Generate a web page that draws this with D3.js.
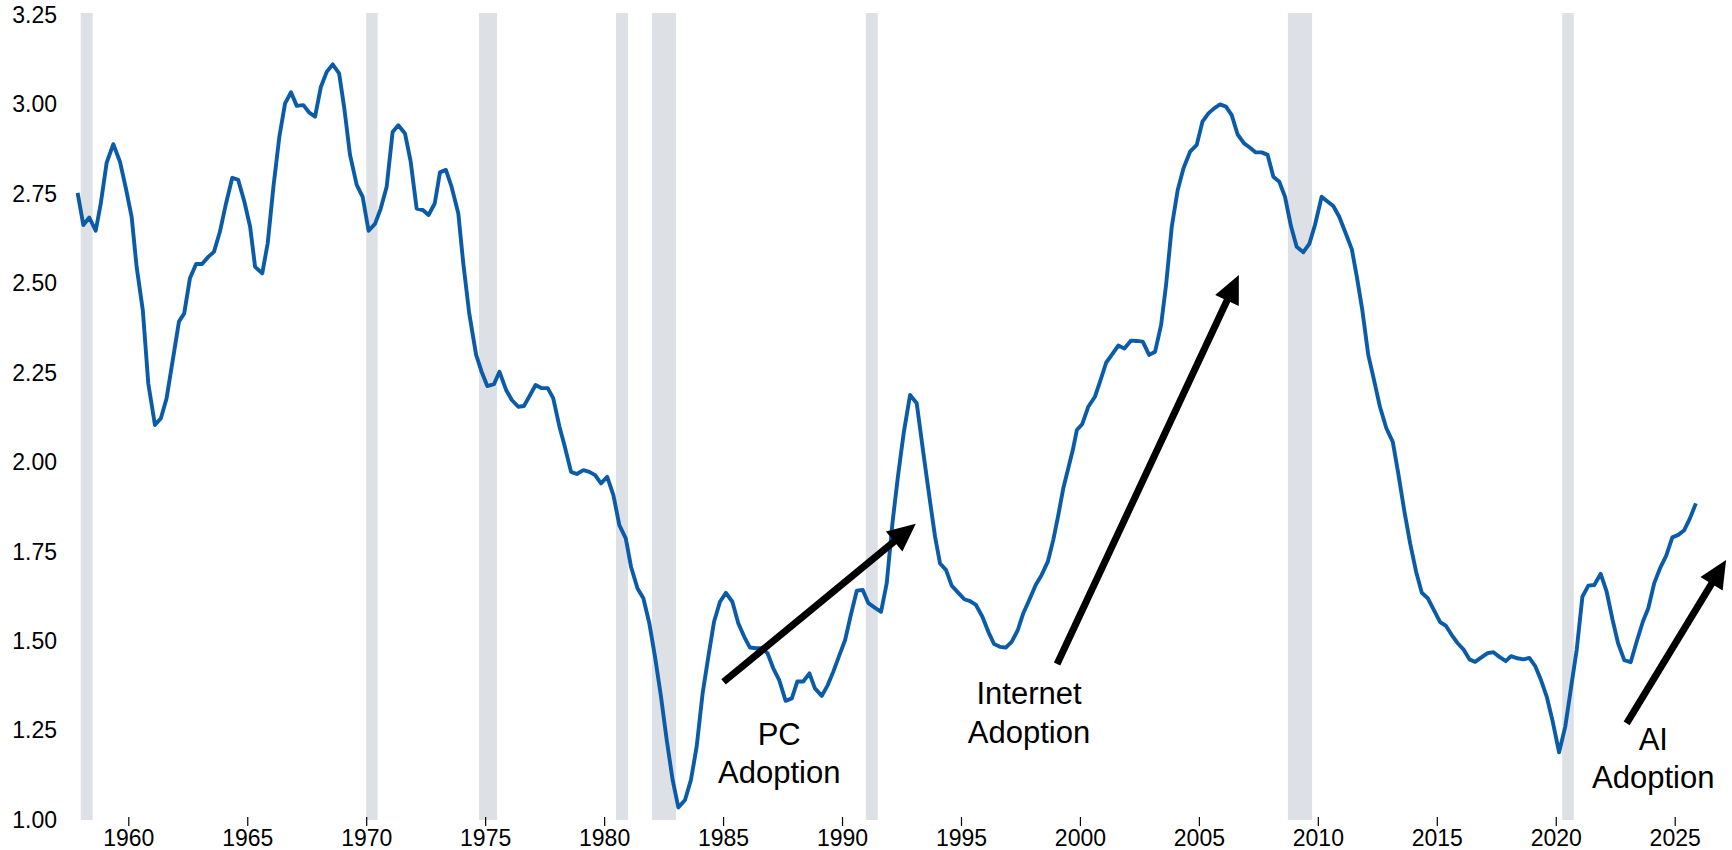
<!DOCTYPE html>
<html>
<head>
<meta charset="utf-8">
<script src="https://cdn.jsdelivr.net/npm/d3@7"></script>
<style>
  html, body { margin: 0; padding: 0; background: #fff; }
  svg text { font-family: "Liberation Sans", Arial, sans-serif; }
</style>
</head>
<body>
<div id="chart"></div>
<script>
// quarterly series: [decimal year, value]
const series = [
  [1957.87, 2.753], [1958.11, 2.663], [1958.36, 2.684], [1958.63, 2.647], [1958.84, 2.722],
  [1959.09, 2.837], [1959.37, 2.889], [1959.65, 2.840], [1959.90, 2.765], [1960.14, 2.686],
  [1960.35, 2.546], [1960.61, 2.425], [1960.84, 2.220], [1961.12, 2.104], [1961.37, 2.123],
  [1961.61, 2.179], [1961.87, 2.286], [1962.13, 2.393], [1962.35, 2.416], [1962.59, 2.514],
  [1962.85, 2.554], [1963.10, 2.554], [1963.36, 2.574], [1963.60, 2.588], [1963.85, 2.644],
  [1964.11, 2.724], [1964.37, 2.795], [1964.62, 2.789], [1964.88, 2.728], [1965.12, 2.658],
  [1965.33, 2.546], [1965.63, 2.528], [1965.86, 2.612], [1966.10, 2.770], [1966.35, 2.910],
  [1966.59, 3.003], [1966.84, 3.034], [1967.08, 2.996], [1967.36, 2.998], [1967.61, 2.977],
  [1967.85, 2.966], [1968.09, 3.048], [1968.34, 3.091], [1968.59, 3.112], [1968.86, 3.087],
  [1969.08, 2.989], [1969.32, 2.859], [1969.60, 2.775], [1969.85, 2.742], [1970.10, 2.647],
  [1970.37, 2.666], [1970.61, 2.709], [1970.86, 2.770], [1971.11, 2.923], [1971.35, 2.942],
  [1971.63, 2.919], [1971.87, 2.840], [1972.12, 2.709], [1972.38, 2.705], [1972.62, 2.691],
  [1972.88, 2.723], [1973.10, 2.810], [1973.35, 2.817], [1973.58, 2.772], [1973.87, 2.696],
  [1974.08, 2.556], [1974.33, 2.416], [1974.62, 2.300], [1974.85, 2.253], [1975.09, 2.213],
  [1975.37, 2.218], [1975.60, 2.253], [1975.88, 2.202], [1976.12, 2.174], [1976.39, 2.155],
  [1976.63, 2.157], [1976.89, 2.188], [1977.12, 2.216], [1977.38, 2.207], [1977.63, 2.207],
  [1977.86, 2.179], [1978.12, 2.100], [1978.33, 2.048], [1978.61, 1.973], [1978.85, 1.967],
  [1979.13, 1.978], [1979.38, 1.973], [1979.62, 1.964], [1979.87, 1.941], [1980.13, 1.959],
  [1980.39, 1.908], [1980.64, 1.824], [1980.91, 1.787], [1981.13, 1.708], [1981.40, 1.648],
  [1981.65, 1.620], [1981.90, 1.550], [1982.14, 1.456], [1982.39, 1.345], [1982.63, 1.224],
  [1982.88, 1.112], [1983.12, 1.035], [1983.40, 1.056], [1983.65, 1.112], [1983.89, 1.205],
  [1984.14, 1.354], [1984.38, 1.456], [1984.62, 1.554], [1984.87, 1.610], [1985.12, 1.635],
  [1985.39, 1.610], [1985.64, 1.550], [1985.89, 1.512], [1986.13, 1.482], [1986.38, 1.480],
  [1986.62, 1.480], [1986.87, 1.466], [1987.11, 1.424], [1987.36, 1.391], [1987.63, 1.333],
  [1987.89, 1.340], [1988.12, 1.387], [1988.37, 1.387], [1988.63, 1.410], [1988.86, 1.368],
  [1989.15, 1.347], [1989.40, 1.377], [1989.63, 1.414], [1989.89, 1.461], [1990.13, 1.503],
  [1990.37, 1.573], [1990.62, 1.641], [1990.87, 1.643], [1991.11, 1.606], [1991.39, 1.593],
  [1991.64, 1.582], [1991.88, 1.662], [1992.12, 1.830], [1992.35, 1.960], [1992.60, 2.085],
  [1992.86, 2.188], [1993.14, 2.165], [1993.40, 2.035], [1993.67, 1.904], [1993.91, 1.792],
  [1994.12, 1.717], [1994.37, 1.699], [1994.61, 1.655], [1994.89, 1.635], [1995.14, 1.617],
  [1995.38, 1.612], [1995.63, 1.601], [1995.90, 1.568], [1996.15, 1.526], [1996.39, 1.492],
  [1996.64, 1.484], [1996.88, 1.482], [1997.13, 1.498], [1997.39, 1.531], [1997.62, 1.578],
  [1997.87, 1.615], [1998.14, 1.657], [1998.39, 1.685], [1998.65, 1.722], [1998.88, 1.783],
  [1999.09, 1.852], [1999.30, 1.927], [1999.51, 1.983], [1999.70, 2.034], [1999.87, 2.090],
  [2000.10, 2.107], [2000.35, 2.155], [2000.63, 2.183], [2000.87, 2.230], [2001.10, 2.278],
  [2001.36, 2.302], [2001.61, 2.326], [2001.87, 2.318], [2002.15, 2.340], [2002.39, 2.339],
  [2002.64, 2.337], [2002.91, 2.300], [2003.16, 2.309], [2003.41, 2.383], [2003.62, 2.495],
  [2003.86, 2.658], [2004.11, 2.761], [2004.35, 2.821], [2004.63, 2.868], [2004.91, 2.887],
  [2005.15, 2.952], [2005.40, 2.975], [2005.64, 2.989], [2005.89, 3.000], [2006.14, 2.994],
  [2006.38, 2.970], [2006.63, 2.916], [2006.90, 2.891], [2007.15, 2.879], [2007.39, 2.866],
  [2007.64, 2.866], [2007.89, 2.859], [2008.13, 2.798], [2008.38, 2.784], [2008.62, 2.742],
  [2008.87, 2.660], [2009.11, 2.602], [2009.39, 2.587], [2009.64, 2.610], [2009.88, 2.663],
  [2010.16, 2.742], [2010.42, 2.728], [2010.65, 2.716], [2010.90, 2.686], [2011.17, 2.640],
  [2011.43, 2.595], [2011.64, 2.518], [2011.87, 2.425], [2012.12, 2.300], [2012.36, 2.230],
  [2012.61, 2.155], [2012.88, 2.095], [2013.15, 2.057], [2013.38, 1.969], [2013.64, 1.862],
  [2013.88, 1.773], [2014.13, 1.694], [2014.37, 1.635], [2014.62, 1.620], [2014.89, 1.585],
  [2015.14, 1.553], [2015.38, 1.543], [2015.63, 1.517], [2015.88, 1.494], [2016.12, 1.477],
  [2016.37, 1.449], [2016.61, 1.442], [2016.86, 1.454], [2017.12, 1.466], [2017.38, 1.469],
  [2017.63, 1.456], [2017.90, 1.444], [2018.12, 1.458], [2018.39, 1.452], [2018.64, 1.449],
  [2018.89, 1.453], [2019.13, 1.431], [2019.38, 1.391], [2019.62, 1.345], [2019.86, 1.279],
  [2020.14, 1.189], [2020.40, 1.261], [2020.65, 1.373], [2020.88, 1.475], [2021.12, 1.624],
  [2021.37, 1.655], [2021.62, 1.657], [2021.89, 1.688], [2022.14, 1.638], [2022.39, 1.559],
  [2022.62, 1.494], [2022.88, 1.447], [2023.15, 1.441], [2023.40, 1.498], [2023.66, 1.554],
  [2023.89, 1.592], [2024.14, 1.662], [2024.38, 1.703], [2024.64, 1.738], [2024.90, 1.790],
  [2025.15, 1.797], [2025.40, 1.810], [2025.64, 1.843], [2025.89, 1.885]
];

// shaded recession periods [start, end]
const recessions = [
  [1958.0, 1958.5], [1970.0, 1970.48], [1974.74, 1975.5], [1980.5, 1981.0],
  [1982.01, 1983.02], [1991.0, 1991.5], [2008.74, 2009.76], [2020.27, 2020.76]
];

const xTicks = [1960, 1965, 1970, 1975, 1980, 1985, 1990, 1995, 2000, 2005, 2010, 2015, 2020, 2025];
const yTicks = [1.00, 1.25, 1.50, 1.75, 2.00, 2.25, 2.50, 2.75, 3.00, 3.25];

// annotations: label lines, label anchor, arrow tail and tip (year, value)
const notes = [
  { lines: ['PC', 'Adoption'], at: [1987.36, 1.21], from: [1985.02, 1.386], to: [1993.10, 1.828] },
  { lines: ['Internet', 'Adoption'], at: [1997.86, 1.323], from: [1999.04, 1.436], to: [2006.68, 2.523] },
  { lines: ['AI', 'Adoption'], at: [2024.10, 1.196], from: [2022.98, 1.27], to: [2027.16, 1.727] }
];

const width = 1732, height = 850;
const lineColor = '#0a5ca8';
const shade = '#dde0e5';

let svg = d3.select('#chart')
    .append('svg')
    .attr('width', width)
    .attr('height', height);

let x = d3.scaleLinear().domain([1960, 2025]).range([128.3, 1674.7]);
let y = d3.scaleLinear().domain([1, 3.25]).range([820, 15]);

// recession bars
svg.append('g')
    .selectAll('rect')
    .data(recessions)
    .enter()
    .append('rect')
    .attr('x', d => x(d[0]))
    .attr('width', d => x(d[1]) - x(d[0]))
    .attr('y', y(3.25) - 2)
    .attr('height', y(1) - y(3.25) + 2)
    .attr('fill', shade);

// y axis: labels only
let yAxis = d3.axisLeft(y)
    .tickValues(yTicks)
    .tickFormat(d3.format('.2f'))
    .tickSize(0)
    .tickPadding(0);

svg.append('g')
    .attr('transform', 'translate(57, 0)')
    .call(yAxis)
    .call(g => g.select('.domain').remove())
    .selectAll('text')
    .attr('font-size', '23px')
    .attr('font-family', '"Liberation Sans", Arial, sans-serif')
    .attr('fill', '#000');

// x axis: small ticks, no baseline
let xAxis = d3.axisBottom(x)
    .tickValues(xTicks)
    .tickFormat(d3.format('d'))
    .tickSize(9)
    .tickPadding(4);

svg.append('g')
    .attr('transform', 'translate(0, 817)')
    .call(xAxis)
    .call(g => g.select('.domain').remove())
    .call(g => g.selectAll('line').attr('stroke', '#000').attr('stroke-width', 1.2))
    .selectAll('text')
    .attr('font-size', '23px')
    .attr('font-family', '"Liberation Sans", Arial, sans-serif')
    .attr('fill', '#000');

// main line
let line = d3.line()
    .x(d => x(d[0]))
    .y(d => y(d[1]));

svg.append('path')
    .datum(series)
    .attr('d', line)
    .attr('fill', 'none')
    .attr('stroke', lineColor)
    .attr('stroke-width', 3.9)
    .attr('stroke-linejoin', 'round');

// arrows and labels
let headLen = 28, headHalf = 13;

notes.forEach(function (n)
{
    let x0 = x(n.from[0]), y0 = y(n.from[1]);
    let x1 = x(n.to[0]), y1 = y(n.to[1]);
    let dx = x1 - x0, dy = y1 - y0;
    let len = Math.sqrt(dx * dx + dy * dy);
    let ux = dx / len, uy = dy / len;
    let bx = x1 - ux * headLen, by = y1 - uy * headLen;

    svg.append('line')
        .attr('x1', x0).attr('y1', y0)
        .attr('x2', bx + ux * 2).attr('y2', by + uy * 2)
        .attr('stroke', '#000')
        .attr('stroke-width', 7);

    svg.append('path')
        .attr('d', 'M' + x1 + ',' + y1 +
            'L' + (bx - uy * headHalf) + ',' + (by + ux * headHalf) +
            'L' + (bx + uy * headHalf) + ',' + (by - ux * headHalf) + 'Z')
        .attr('fill', '#000');

    let t = svg.append('text')
        .attr('x', x(n.at[0]))
        .attr('y', y(n.at[1]))
        .attr('text-anchor', 'middle')
        .attr('font-size', '31px')
        .attr('fill', '#000');

    n.lines.forEach(function (s, i)
    {
        t.append('tspan')
            .attr('x', x(n.at[0]))
            .attr('dy', i === 0 ? 0 : 38.5)
            .text(s);
    });
});
</script>
</body>
</html>
